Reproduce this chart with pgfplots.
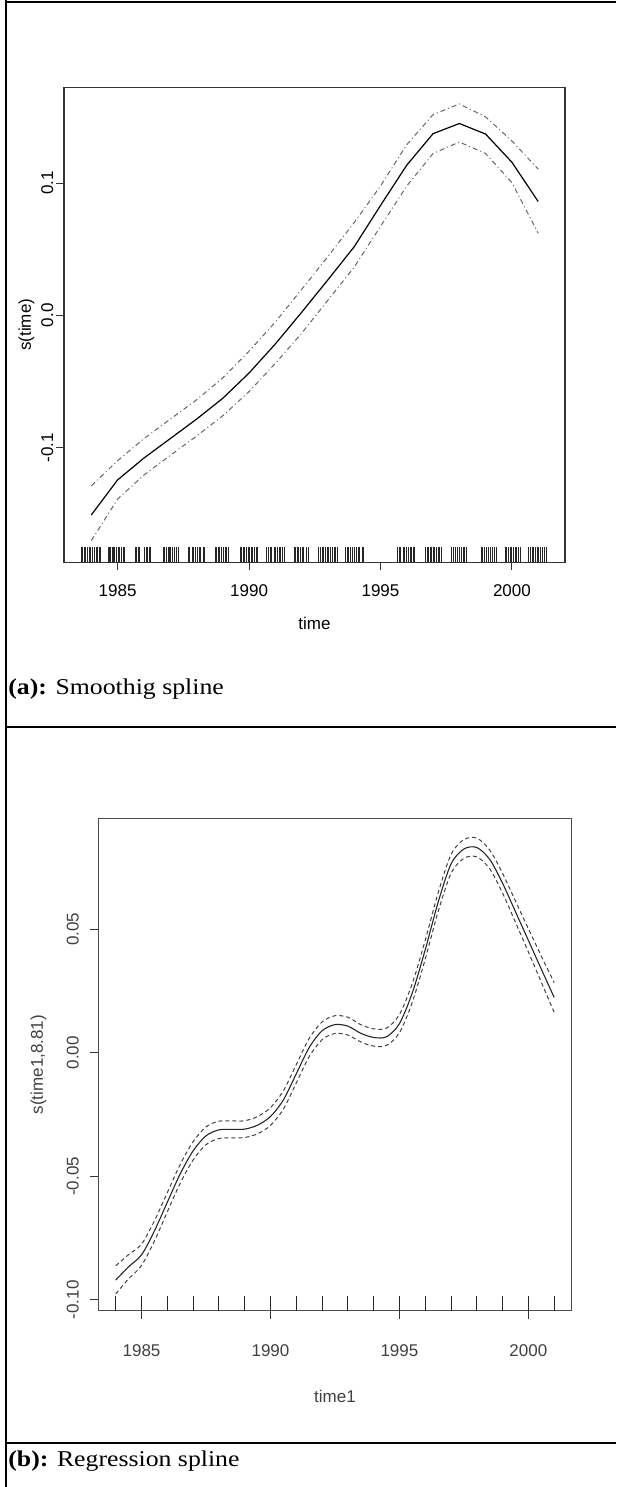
\documentclass[border=0pt]{standalone}
\usepackage{fontspec}
\setmainfont{Liberation Sans}
\newfontfamily\capfont[FakeStretch=1.14]{Liberation Serif}
\usepackage{pgfplots}
\usepackage{pgfplotstable}
\pgfplotsset{compat=1.18}

\newcommand{\rfont}{\fontsize{8.5}{10}\selectfont}

% (a) smoothing spline, fitted at the integer years
\pgfplotstableread{
t     fit     up      lo
1984 -0.1510 -0.1290 -0.1704
1985 -0.1245 -0.1100 -0.1390
1986 -0.1080 -0.0933 -0.1208
1987 -0.0933 -0.0786 -0.1060
1988 -0.0786 -0.0640 -0.0914
1989 -0.0628 -0.0474 -0.0760
1990 -0.0437 -0.0272 -0.0577
1991 -0.0217 -0.0051 -0.0364
1992  0.0022  0.0195 -0.0136
1993  0.0268  0.0444  0.0114
1994  0.0518  0.0701  0.0364
1995  0.0830  0.0977  0.0672
1996  0.1135  0.1290  0.0977
1997  0.1373  0.1517  0.1223
1998  0.1450  0.1598  0.1310
1999  0.1370  0.1500  0.1223
2000  0.1157  0.1318  0.1003
2001  0.0860  0.1105  0.0620
}\splineA

% (b) regression spline
\pgfplotstableread{
t       fit     up      lo
1984.0 -0.0920 -0.0862 -0.0976
1984.5 -0.0866 -0.0817 -0.0915
1985.0 -0.0818 -0.0775 -0.0861
1985.5 -0.0721 -0.0680 -0.0762
1986.0 -0.0605 -0.0566 -0.0644
1986.5 -0.0490 -0.0452 -0.0528
1987.0 -0.0397 -0.0360 -0.0434
1987.5 -0.0336 -0.0300 -0.0372
1988.0 -0.0312 -0.0277 -0.0347
1988.5 -0.0310 -0.0276 -0.0344
1989.0 -0.0309 -0.0275 -0.0343
1989.5 -0.0293 -0.0258 -0.0328
1990.0 -0.0258 -0.0222 -0.0294
1990.5 -0.0191 -0.0154 -0.0228
1991.0 -0.0085 -0.0048 -0.0122
1991.5  0.0021  0.0058 -0.0016
1992.0  0.0089  0.0125  0.0053
1992.5  0.0114  0.0150  0.0078
1993.0  0.0108  0.0144  0.0072
1993.5  0.0079  0.0114  0.0044
1994.0  0.0062  0.0097  0.0027
1994.5  0.0065  0.0100  0.0030
1995.0  0.0118  0.0155  0.0081
1995.5  0.0243  0.0281  0.0205
1996.0  0.0417  0.0455  0.0379
1996.5  0.0609  0.0647  0.0571
1997.0  0.0764  0.0802  0.0726
1997.5  0.0825  0.0863  0.0787
1998.0  0.0831  0.0869  0.0793
1998.5  0.0783  0.0821  0.0745
1999.0  0.0686  0.0726  0.0646
1999.5  0.0571  0.0614  0.0528
2000.0  0.0455  0.0502  0.0408
2000.5  0.0339  0.0392  0.0286
2001.0  0.0224  0.0284  0.0164
}\splineB

\pgfplotsset{
  rplot/.style={
    scale only axis, clip=false,
    tick align=outside, xtick pos=left, ytick pos=left,
    major tick length=4pt,
    ticklabel style={font=\rfont},
    label style={font=\rfont},
    xtick={1985,1990,1995,2000}, xticklabels={1985,1990,1995,2000},
  }
}

\begin{document}
\begin{tikzpicture}
\path[use as bounding box] (0pt,0pt) rectangle (308pt,743.5pt);

\begin{scope}[x=0.5pt,y=0.5pt]
% table rules
\draw[line width=1pt] (6,0) -- (6,1487);
\draw[line width=1pt] (6,1485) -- (616,1485);
\draw[line width=1.1pt] (6,760.3) -- (616,760.3);
\draw[line width=1.1pt] (6,44.3) -- (616,44.3);
\node[anchor=base west, inner sep=0] at (8,792)
  {\capfont\fontsize{11.3}{13}\selectfont\textbf{(a):} Smoothig spline};
\node[anchor=base west, inner sep=0] at (8,20.3)
  {\capfont\fontsize{11.3}{13}\selectfont\textbf{(b):} Regression spline};
\end{scope}

\begin{axis}[rplot,
  at={(32pt,462.35pt)}, anchor=south west,
  width=250.5pt, height=237.5pt,
  xmin=1982.96, xmax=2002.02, ymin=-0.1868, ymax=0.1724,
  ytick={-0.1,0,0.1}, yticklabels={-0.1,0.0,0.1},
  axis line style={black!80, line width=0.6pt},
  tick style={black!80, line width=0.5pt},
  xticklabel style={anchor=base, yshift=-13.2pt},
  yticklabel style={xshift=-1.5pt, rotate=90, anchor=base},
  xlabel={time}, ylabel={s(time)},
  xlabel style={at={(axis description cs:0.5,0)}, anchor=base, yshift=-33.85pt},
  ylabel style={at={(axis description cs:-0.0659,0.5)}, anchor=base},
]
\addplot[black, line width=0.6pt] table[x=t, y=fit] {\splineA};
\addplot[black!60, line width=0.5pt, dash pattern=on 2.5pt off 1.5pt on 0.5pt off 1.5pt] table[x=t, y=up] {\splineA};
\addplot[black!60, line width=0.5pt, dash pattern=on 2.5pt off 1.5pt on 0.5pt off 1.5pt] table[x=t, y=lo] {\splineA};
% rug
\addplot[only marks, mark=|, mark size=3.75pt, mark options={line width=0.5pt, black!85}] coordinates {
(1983.63,-0.1811)(1983.68,-0.1811)(1983.74,-0.1811)(1983.79,-0.1811)(1983.86,-0.1811)(1983.92,-0.1811)(1983.97,-0.1811)(1984.05,-0.1811)(1984.11,-0.1811)(1984.18,-0.1811)(1984.24,-0.1811)(1984.30,-0.1811)(1984.36,-0.1811)
(1984.64,-0.1811)(1984.70,-0.1811)(1984.74,-0.1811)(1984.79,-0.1811)(1984.85,-0.1811)(1984.90,-0.1811)(1984.96,-0.1811)(1985.02,-0.1811)(1985.08,-0.1811)(1985.15,-0.1811)(1985.21,-0.1811)(1985.26,-0.1811)
(1985.67,-0.1811)(1985.72,-0.1811)(1985.79,-0.1811)(1985.85,-0.1811)(1986.02,-0.1811)(1986.08,-0.1811)(1986.15,-0.1811)(1986.21,-0.1811)(1986.26,-0.1811)
(1986.73,-0.1811)(1986.79,-0.1811)(1986.86,-0.1811)(1986.92,-0.1811)(1986.97,-0.1811)(1987.03,-0.1811)(1987.09,-0.1811)(1987.16,-0.1811)(1987.24,-0.1811)(1987.31,-0.1811)
(1987.69,-0.1811)(1987.75,-0.1811)(1987.83,-0.1811)(1987.90,-0.1811)(1987.96,-0.1811)(1988.04,-0.1811)(1988.10,-0.1811)(1988.17,-0.1811)(1988.25,-0.1811)(1988.32,-0.1811)
(1988.71,-0.1811)(1988.76,-0.1811)(1988.82,-0.1811)(1988.89,-0.1811)(1988.95,-0.1811)(1989.04,-0.1811)(1989.10,-0.1811)(1989.16,-0.1811)(1989.22,-0.1811)
(1989.68,-0.1811)(1989.72,-0.1811)(1989.79,-0.1811)(1989.84,-0.1811)(1989.90,-0.1811)(1989.96,-0.1811)(1990.03,-0.1811)(1990.09,-0.1811)(1990.15,-0.1811)(1990.22,-0.1811)(1990.28,-0.1811)(1990.34,-0.1811)
(1990.67,-0.1811)(1990.73,-0.1811)(1990.80,-0.1811)(1990.86,-0.1811)(1990.95,-0.1811)(1991.01,-0.1811)(1991.07,-0.1811)(1991.14,-0.1811)(1991.20,-0.1811)(1991.28,-0.1811)(1991.35,-0.1811)
(1991.72,-0.1811)(1991.77,-0.1811)(1991.83,-0.1811)(1991.90,-0.1811)(1991.96,-0.1811)(1992.02,-0.1811)(1992.09,-0.1811)(1992.18,-0.1811)(1992.26,-0.1811)
(1992.66,-0.1811)(1992.72,-0.1811)(1992.79,-0.1811)(1992.85,-0.1811)(1992.91,-0.1811)(1992.97,-0.1811)(1993.04,-0.1811)(1993.10,-0.1811)(1993.17,-0.1811)(1993.24,-0.1811)(1993.30,-0.1811)(1993.35,-0.1811)
(1993.68,-0.1811)(1993.74,-0.1811)(1993.80,-0.1811)(1993.87,-0.1811)(1993.95,-0.1811)(1994.02,-0.1811)(1994.09,-0.1811)(1994.15,-0.1811)(1994.21,-0.1811)(1994.30,-0.1811)(1994.37,-0.1811)
(1995.65,-0.1811)(1995.71,-0.1811)(1995.78,-0.1811)(1995.86,-0.1811)(1995.92,-0.1811)(1996.00,-0.1811)(1996.06,-0.1811)(1996.13,-0.1811)(1996.19,-0.1811)(1996.24,-0.1811)(1996.29,-0.1811)
(1996.72,-0.1811)(1996.78,-0.1811)(1996.84,-0.1811)(1996.90,-0.1811)(1996.95,-0.1811)(1997.01,-0.1811)(1997.07,-0.1811)(1997.13,-0.1811)(1997.20,-0.1811)(1997.26,-0.1811)(1997.31,-0.1811)
(1997.71,-0.1811)(1997.77,-0.1811)(1997.84,-0.1811)(1997.92,-0.1811)(1998.00,-0.1811)(1998.08,-0.1811)(1998.15,-0.1811)(1998.21,-0.1811)(1998.26,-0.1811)
(1998.84,-0.1811)(1998.90,-0.1811)(1998.96,-0.1811)(1999.02,-0.1811)(1999.10,-0.1811)(1999.18,-0.1811)(1999.25,-0.1811)(1999.33,-0.1811)(1999.40,-0.1811)
(1999.75,-0.1811)(1999.81,-0.1811)(1999.87,-0.1811)(1999.93,-0.1811)(2000.00,-0.1811)(2000.06,-0.1811)(2000.13,-0.1811)(2000.19,-0.1811)(2000.26,-0.1811)(2000.34,-0.1811)
(2000.65,-0.1811)(2000.71,-0.1811)(2000.77,-0.1811)(2000.83,-0.1811)(2000.90,-0.1811)(2000.97,-0.1811)(2001.03,-0.1811)(2001.10,-0.1811)(2001.17,-0.1811)(2001.24,-0.1811)(2001.30,-0.1811)
};
\end{axis}

\begin{axis}[rplot,
  at={(49.1pt,88.15pt)}, anchor=south west,
  width=236.75pt, height=246.05pt,
  xmin=1983.32, xmax=2001.68, ymin=-0.1044, ymax=0.0948,
  ytick={-0.1,-0.05,0,0.05}, yticklabels={-0.10,-0.05,0.00,0.05},
  axis line style={black!70, line width=0.6pt},
  tick style={black!80, line width=0.5pt},
  ticklabel style={text=black!75},
  label style={text=black!75},
  xticklabel style={anchor=base, yshift=-19.15pt},
  yticklabel style={xshift=-5.8pt, rotate=90, anchor=base},
  xlabel={time1}, ylabel={s(time1,8.81)},
  xlabel style={at={(axis description cs:0.5,0)}, anchor=base, yshift=-45.75pt},
  ylabel style={at={(axis description cs:-0.117,0.5)}, anchor=base},
]
\addplot[black!85, line width=0.55pt, smooth] table[x=t, y=fit] {\splineB};
\addplot[black!75, line width=0.5pt, smooth, dash pattern=on 2pt off 1.5pt] table[x=t, y=up] {\splineB};
\addplot[black!75, line width=0.5pt, smooth, dash pattern=on 2pt off 1.5pt] table[x=t, y=lo] {\splineB};
% rug at the integer years
\addplot[only marks, mark=|, mark size=3.7pt, mark options={line width=0.5pt, black!85}] coordinates {
(1984,-0.1014)(1985,-0.1014)(1986,-0.1014)(1987,-0.1014)(1988,-0.1014)(1989,-0.1014)
(1990,-0.1014)(1991,-0.1014)(1992,-0.1014)(1993,-0.1014)(1994,-0.1014)(1995,-0.1014)
(1996,-0.1014)(1997,-0.1014)(1998,-0.1014)(1999,-0.1014)(2000,-0.1014)(2001,-0.1014)
};
\end{axis}
\end{tikzpicture}
\end{document}
